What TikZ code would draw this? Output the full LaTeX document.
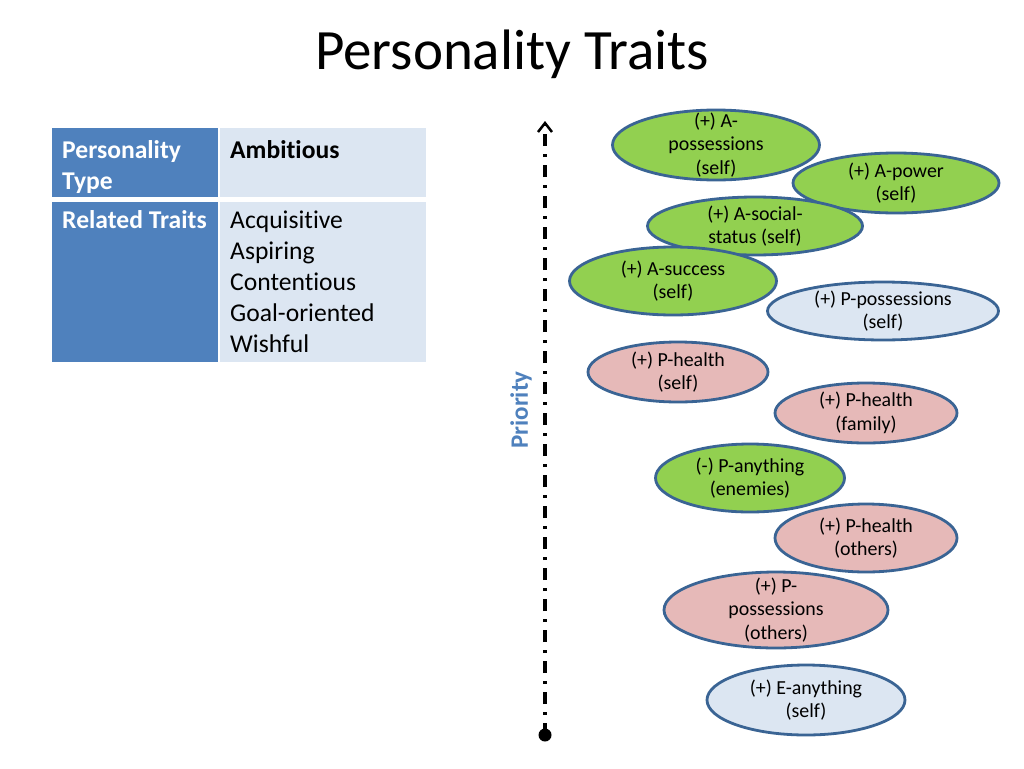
\documentclass[tikz,border=0pt]{standalone}
\usepackage{fontspec}
\setmainfont[Ligatures={NoCommon,TeX}]{Carlito}
\usetikzlibrary{shapes.geometric,arrows.meta}
\definecolor{hdrblue}{HTML}{4F81BD}
\definecolor{cellblue}{HTML}{DCE6F2}
\definecolor{ovgreen}{HTML}{92D050}
\definecolor{ovpink}{HTML}{E6B9B8}
\definecolor{ovblue}{HTML}{DCE6F2}
\definecolor{ovline}{HTML}{3A6494}
\tikzset{
  cellL/.style={fill=hdrblue, draw=none, anchor=north west, inner sep=0pt},
  cellR/.style={fill=cellblue, draw=none, anchor=north west, inner sep=0pt},
  hdrtext/.style={anchor=base west, inner sep=0pt, text=white, font=\fontsize{25.6}{31}\selectfont\bfseries},
  bodytext/.style={anchor=base west, inner sep=0pt, text=black, font=\fontsize{25.6}{31}\selectfont},
  oval/.style={ellipse, draw=ovline, line width=2.8pt, inner sep=0pt},
  ovtext/.style={font=\fontsize{19.9}{23.5}\selectfont, align=center, inner sep=0pt, text=black},
}
\begin{document}
\begin{tikzpicture}[x=1pt,y=-1pt]
\useasboundingbox[fill=white] (0,0) rectangle (1024,768);
% title
\node[font=\fontsize{57}{68}\selectfont, anchor=base] (title) at (512,70) {Personality Traits};
% table
\node[cellL, minimum width=166pt, minimum height=69pt] (c11) at (52,128) {};
\node[cellR, minimum width=206pt, minimum height=69pt] (c12) at (220,128) {};
\node[cellL, minimum width=166pt, minimum height=160pt] (c21) at (52,202) {};
\node[cellR, minimum width=206pt, minimum height=160pt] (c22) at (220,202) {};
\node[hdrtext] (t11a) at (62,158) {Personality};
\node[hdrtext] (t11b) at (62,189) {Type};
\node[bodytext, font=\fontsize{25.6}{31}\selectfont\bfseries] (t12) at (230,158) {Ambitious};
\node[hdrtext] (t21) at (62,228) {Related Traits};
\foreach \w [count=\i] in {Acquisitive,Aspiring,Contentious,Goal-oriented,Wishful}
  \node[bodytext] (t22-\i) at (230,{228+31*(\i-1)}) {\w};
% priority axis
\node[circle, fill=black, minimum size=13pt, inner sep=0pt] (bot) at (545,735) {};
\coordinate (top) at (545,121);
\draw[line width=3.2pt, dash pattern=on 12pt off 8pt on 3pt off 8pt, -{Straight Barb[length=9pt,width=14pt,line width=2.5pt]}] (bot.center) -- (top);
\node[rotate=90, font=\fontsize{25}{26}\selectfont\bfseries, text=hdrblue] (prio) at (521,410) {Priority};
% ovals
\node[oval, fill=ovgreen, minimum width=207pt, minimum height=70pt] (e1) at (716,145) {};
\node[ovtext] at (e1) {(+) A-\\possessions\\(self)};
\node[oval, fill=ovgreen, minimum width=206pt, minimum height=60pt] (e2) at (896,183) {};
\node[ovtext] at (e2) {(+) A-power\\(self)};
\node[oval, fill=ovgreen, minimum width=215pt, minimum height=58pt] (e3) at (755,226) {};
\node[ovtext] at (e3) {(+) A-social-\\status (self)};
\node[oval, fill=ovgreen, minimum width=207pt, minimum height=68pt] (e4) at (673,281) {};
\node[ovtext] at (e4) {(+) A-success\\(self)};
\node[oval, fill=ovblue, minimum width=231pt, minimum height=58pt] (e5) at (883,311) {};
\node[ovtext] at (e5) {(+) P-possessions\\(self)};
\node[oval, fill=ovpink, minimum width=180pt, minimum height=60pt] (e6) at (678,372) {};
\node[ovtext] at (e6) {(+) P-health\\(self)};
\node[oval, fill=ovpink, minimum width=182pt, minimum height=60pt] (e7) at (866,413) {};
\node[ovtext] at (e7) {(+) P-health\\(family)};
\node[oval, fill=ovgreen, minimum width=189pt, minimum height=68pt] (e8) at (750,478) {};
\node[ovtext] at (e8) {(-) P-anything\\(enemies)};
\node[oval, fill=ovpink, minimum width=182pt, minimum height=68pt] (e9) at (866,538) {};
\node[ovtext] at (e9) {(+) P-health\\(others)};
\node[oval, fill=ovpink, minimum width=224pt, minimum height=76pt] (e10) at (776,610) {};
\node[ovtext] at (e10) {(+) P-\\possessions\\(others)};
\node[oval, fill=ovblue, minimum width=198pt, minimum height=70pt] (e11) at (806,700) {};
\node[ovtext] at (e11) {(+) E-anything\\(self)};
\end{tikzpicture}
\end{document}
